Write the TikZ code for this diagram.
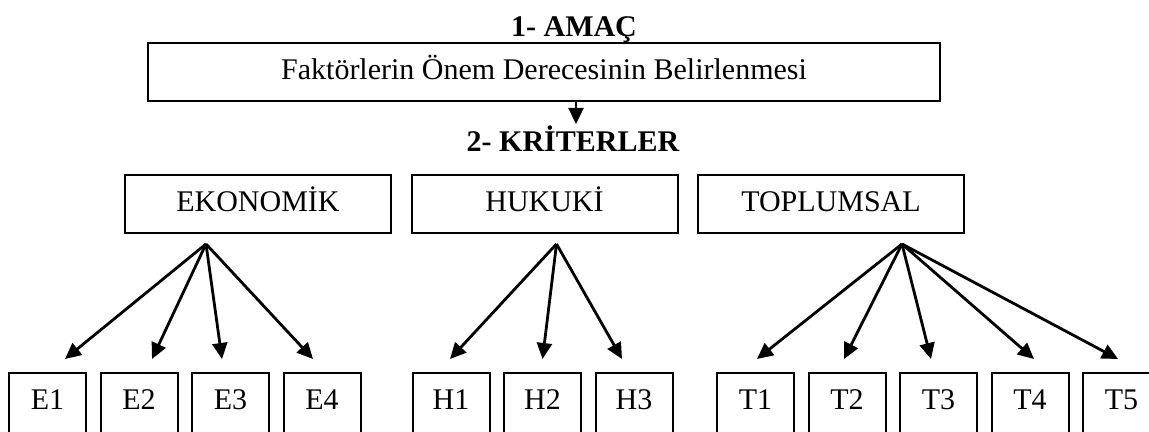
\documentclass[tikz,border=0pt]{standalone}
\usepackage{fontspec}
\setmainfont{Liberation Serif}
\usetikzlibrary{positioning,arrows.meta}
\newcommand{\AhpPx}{0.5pt}

\begin{document}
\begin{tikzpicture}[x=\AhpPx, y=-\AhpPx,
		kutu/.style={draw, line width=1pt, inner sep=0pt, minimum height=29pt, text height=10pt, text depth=2pt, font=\fontsize{15}{18}\selectfont},
		altkutu/.style={kutu, minimum width=38.5pt, minimum height=32pt, text depth=6pt},
		baslik/.style={anchor=base, inner sep=0pt, font=\fontsize{15}{18}\selectfont\bfseries},
		ok/.style={line width=1.4pt, -{Triangle[length=8pt, width=7.5pt]}}]
		\useasboundingbox (0,0) rectangle (1149,432);
		\node[baslik] (amacb) at (574,37) {1- AMAÇ};
		\node[kutu, minimum width=396pt] (amac) at (544,72) {Faktörlerin Önem Derecesinin Belirlenmesi};
		\node[baslik] (kritb) at (573,152) {2- KRİTERLER};
		\coordinate (krtust) at ([xshift=16pt, yshift=-11pt]amac.south);
		\draw[ok, line width=1.2pt] (amac.south -| krtust) -- (krtust);

		\node[kutu, minimum width=133pt] (eko) at (258,204) {EKONOMİK};
		\node[kutu, minimum width=133pt, right=9.25pt of eko] (huk) {HUKUKİ};
		\node[kutu, minimum width=133pt, right=9.25pt of huk] (top) {TOPLUMSAL};
		\coordinate (eo) at ([xshift=-26pt, yshift=-5pt]eko.south);
		\coordinate (ho) at ([xshift=6pt, yshift=-5pt]huk.south);
		\coordinate (to) at ([xshift=35.5pt, yshift=-5pt]top.south);

		\node[altkutu] (E1) at (47.5,405) {E1};
		\node[altkutu, right=6.25pt of E1] (E2) {E2};
		\node[altkutu, right=6.25pt of E2] (E3) {E3};
		\node[altkutu, right=6.25pt of E3] (E4) {E4};
		\node[altkutu] (H1) at (451,405) {H1};
		\node[altkutu, right=6.25pt of H1] (H2) {H2};
		\node[altkutu, right=6.25pt of H2] (H3) {H3};
		\node[altkutu] (T1) at (755.5,405) {T1};
		\node[altkutu, right=6.25pt of T1] (T2) {T2};
		\node[altkutu, right=6.25pt of T2] (T3) {T3};
		\node[altkutu, right=6.25pt of T3] (T4) {T4};
		\node[altkutu, right=6.25pt of T4] (T5) {T5};

		\foreach \nm/\dx/\kok in {E1/8.75/eo, E2/6.5/eo, E3/-4.25/eo, E4/-4.5/eo, H1/-0.5/ho, H2/0/ho, H3/-6/ho, T1/0.75/to, T2/-1.5/to, T3/-3.75/to, T4/2/to, T5/-1.75/to} {
			\coordinate (\nm u) at ([xshift=\dx pt, yshift=6.5pt]\nm.north);
			\draw[ok] (\kok) -- (\nm u);
		}
	\end{tikzpicture}
\end{document}
